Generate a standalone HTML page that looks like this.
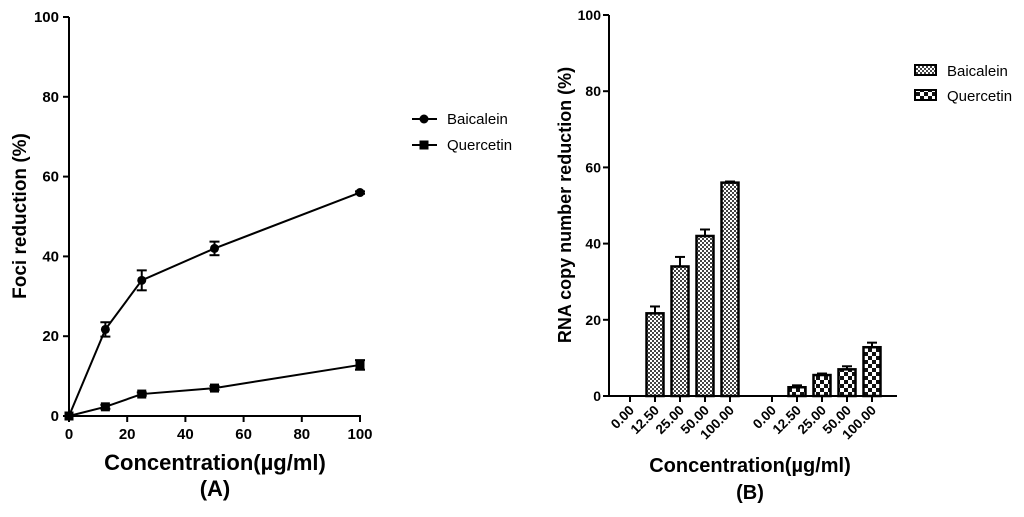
<!DOCTYPE html>
<html><head><meta charset="utf-8"><style>
body{margin:0;background:#fff;width:1024px;height:512px;overflow:hidden}
svg{font-family:"Liberation Sans",Arial,sans-serif}
</style></head><body>
<svg id="svg" width="1024" height="512" viewBox="0 0 1024 512">
<defs>
<pattern id="pb" width="4" height="4" patternUnits="userSpaceOnUse"><rect width="4" height="4" fill="#fff"/><rect width="2" height="2" fill="#444"/><rect x="2" y="2" width="2" height="2" fill="#444"/></pattern>
<pattern id="pq" width="8" height="8" patternUnits="userSpaceOnUse"><rect width="8" height="8" fill="#fff"/><rect width="4" height="4" fill="#111"/><rect x="4" y="4" width="4" height="4" fill="#111"/></pattern>
</defs>
<g id="A"></g>
<g id="B"></g>
</svg>
<script>
const concA=[0,12.5,25,50,100];
const baiA=[0,21.7,34,42,56];
const baiAErr=[0,1.8,2.5,1.7,0.3];
const queA=[0,2.3,5.5,7,12.8];
const queAErr=[0,0.5,0.4,0.5,1.2];
const yTicks=[0,20,40,60,80,100];
const xTicksA=[0,20,40,60,80,100];
const catsB=["0.00","12.50","25.00","50.00","100.00"];
const baiB=[0,21.7,34,42,56];
const baiBErr=[0,1.8,2.5,1.7,0.3];
const queB=[0,2.3,5.5,7,12.8];
const queBErr=[0,0.5,0.4,0.8,1.2];

const NS="http://www.w3.org/2000/svg";
function mk(p,t,a,txt){const e=document.createElementNS(NS,t);for(const k in a)e.setAttribute(k,a[k]);if(txt!=null)e.textContent=txt;p.appendChild(e);return e;}

// Chart A
const A=document.getElementById('A');
const ax=v=>69+v*(360-69)/100, ay=v=>416-v*(416-17)/100;
let e;
e=mk(A,'line',{x1:69,y1:17,x2:69,y2:416,stroke:'#000','stroke-width':2});

e=mk(A,'line',{x1:69,y1:416,x2:361,y2:416,stroke:'#000','stroke-width':2});

yTicks.forEach(t=>{mk(A,'line',{x1:63,y1:ay(t),x2:69,y2:ay(t),stroke:'#000','stroke-width':2});
 e=mk(A,'text',{x:59,y:ay(t)+5,'text-anchor':'end','font-size':15,'font-weight':'bold'},t);
 });
xTicksA.forEach(t=>{mk(A,'line',{x1:ax(t),y1:416,x2:ax(t),y2:422,stroke:'#000','stroke-width':2});
 e=mk(A,'text',{x:ax(t),y:439,'text-anchor':'middle','font-size':15,'font-weight':'bold'},t);
 });
e=mk(A,'text',{transform:'translate(26,216) rotate(-90)','text-anchor':'middle','font-size':19,'font-weight':'bold'},'Foci reduction (%)');

e=mk(A,'text',{x:215,y:470,'text-anchor':'middle','font-size':22,'font-weight':'bold'},'Concentration(µg/ml)');

e=mk(A,'text',{x:215,y:496,'text-anchor':'middle','font-size':22,'font-weight':'bold'},'(A)');

function series(vals,errs,marker,name){
 const g=mk(A,'g',{});
 
 mk(g,'polyline',{points:concA.map((c,i)=>ax(c)+','+ay(vals[i])).join(' '),fill:'none',stroke:'#000','stroke-width':2});
 concA.forEach((c,i)=>{const x=ax(c);
  if(errs[i]>0){const y1=ay(vals[i]+errs[i]),y2=ay(vals[i]-errs[i]);
   mk(g,'line',{x1:x,y1:y1,x2:x,y2:y2,stroke:'#000','stroke-width':2});
   mk(g,'line',{x1:x-5,y1:y1,x2:x+5,y2:y1,stroke:'#000','stroke-width':2});
   mk(g,'line',{x1:x-5,y1:y2,x2:x+5,y2:y2,stroke:'#000','stroke-width':2});}
  const y=ay(vals[i]);
  const m=marker==='c'?mk(g,'circle',{cx:x,cy:y,r:4.5}):mk(g,'rect',{x:x-4.5,y:y-4.5,width:9,height:9});
  });
}
series(baiA,baiAErr,'c','baicalein-series');
series(queA,queAErr,'s','quercetin-series');
e=mk(A,'g',{});
mk(e,'line',{x1:412,y1:119,x2:437,y2:119,stroke:'#000','stroke-width':2});mk(e,'circle',{cx:424,cy:119,r:4.5});
mk(e,'text',{x:447,y:124,'font-size':15},'Baicalein');
mk(e,'line',{x1:412,y1:145,x2:437,y2:145,stroke:'#000','stroke-width':2});mk(e,'rect',{x:419.5,y:140.5,width:9,height:9});
mk(e,'text',{x:447,y:150,'font-size':15},'Quercetin');

// Chart B
const B=document.getElementById('B');
const by=v=>396-v*(396-15)/100;
const g1=i=>630+i*25, g2=i=>772+i*25;
e=mk(B,'line',{x1:609,y1:15,x2:609,y2:396,stroke:'#000','stroke-width':2});

e=mk(B,'line',{x1:609,y1:396,x2:897,y2:396,stroke:'#000','stroke-width':2});

yTicks.forEach(t=>{mk(B,'line',{x1:603,y1:by(t),x2:609,y2:by(t),stroke:'#000','stroke-width':2});
 e=mk(B,'text',{x:601,y:by(t)+5,'text-anchor':'end','font-size':14,'font-weight':'bold'},t);
 });
function bars(vals,errs,pos,fill,name){
 catsB.forEach((c,i)=>{const x=pos(i);
  mk(B,'line',{x1:x,y1:396,x2:x,y2:402,stroke:'#000','stroke-width':2});
  e=mk(B,'text',{transform:`translate(${x+5},${411}) rotate(-45)`,'text-anchor':'end','font-size':13.5,'font-weight':'bold'},c);
  
  if(vals[i]>0){
   if(errs[i]>0){const ye=by(vals[i]+errs[i]);mk(B,'line',{x1:x,y1:ye,x2:x,y2:by(vals[i]),stroke:'#000','stroke-width':2});
    mk(B,'line',{x1:x-5,y1:ye,x2:x+5,y2:ye,stroke:'#000','stroke-width':2});}
   e=mk(B,'rect',{x:x-8.5,y:by(vals[i]),width:17,height:396-by(vals[i]),fill:fill,stroke:'#000','stroke-width':2.5});
   }
 });
}
bars(baiB,baiBErr,g1,'url(#pb)','baicalein');
bars(queB,queBErr,g2,'url(#pq)','quercetin');
e=mk(B,'text',{transform:'translate(571,205) rotate(-90)','text-anchor':'middle','font-size':18,'font-weight':'bold'},'RNA copy number reduction (%)');

e=mk(B,'text',{x:750,y:472,'text-anchor':'middle','font-size':20,'font-weight':'bold'},'Concentration(µg/ml)');

e=mk(B,'text',{x:750,y:499,'text-anchor':'middle','font-size':20,'font-weight':'bold'},'(B)');

e=mk(B,'g',{});
mk(e,'rect',{x:915,y:65,width:21,height:10,fill:'url(#pb)',stroke:'#000','stroke-width':2});
mk(e,'text',{x:947,y:76,'font-size':15},'Baicalein');
mk(e,'rect',{x:915,y:90,width:21,height:10,fill:'url(#pq)',stroke:'#000','stroke-width':2});
mk(e,'text',{x:947,y:101,'font-size':15},'Quercetin');
</script>
</body></html>
